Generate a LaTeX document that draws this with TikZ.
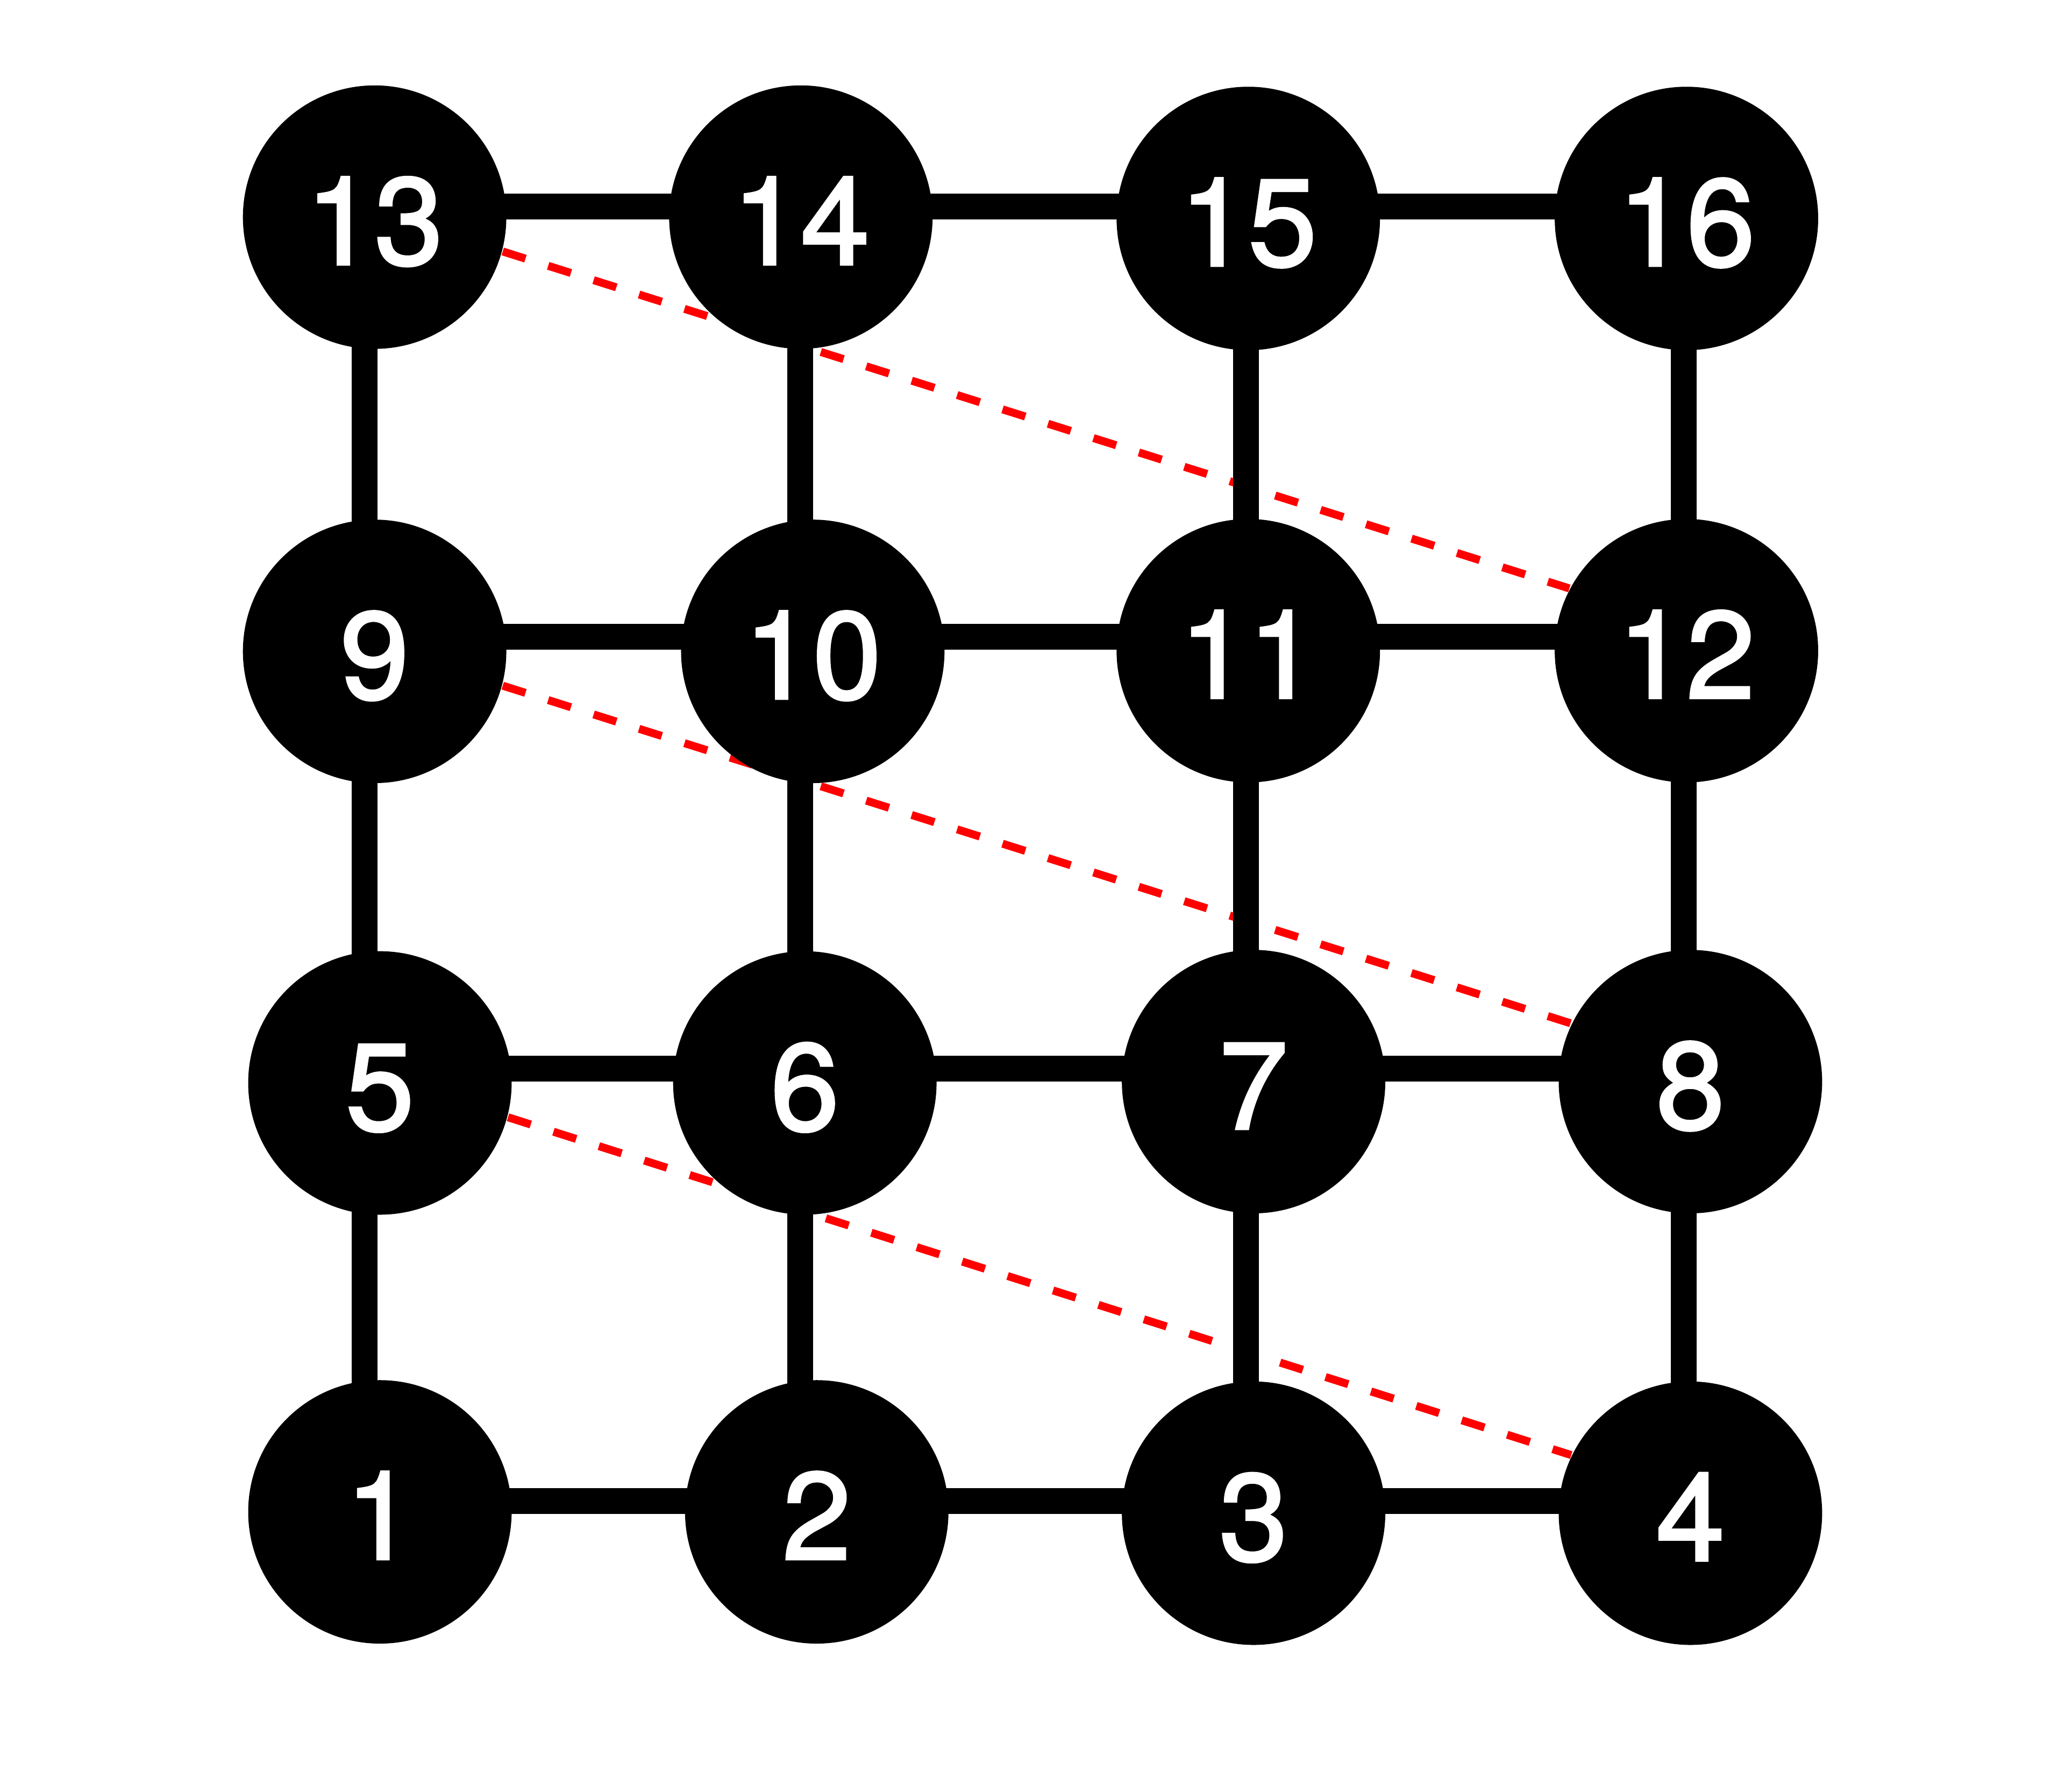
\documentclass[tikz,border=0pt]{standalone}
\usepackage{fontspec}
\setmainfont{TeX Gyre Heros}
\newfontfamily\labelfont{TeX Gyre Heros}[FakeBold=2]
\usetikzlibrary{backgrounds}

\begin{document}
\begin{tikzpicture}[
        vertex/.style={circle, fill=black, minimum size=1.99cm, inner sep=0pt,
            text=white, text height=0.714cm, text depth=0pt,
            font=\labelfont\fontsize{26.5}{26}\selectfont},
        wire/.style={line width=0.195cm, black},
        wrap/.style={line width=0.06cm, red, dash pattern=on 0.18cm off 0.18cm}
    ]
        \useasboundingbox (0,0) rectangle (15.6,-13.536);

        % Grid lines
        \coordinate (colA) at (2.755,0);
        \coordinate (colB) at (6.045,0);
        \coordinate (colC) at (9.413,0);
        \coordinate (colD) at (12.72,0);
        \coordinate (rowA) at (0,-11.34);
        \coordinate (rowB) at (0,-8.07);
        \coordinate (rowC) at (0,-4.81);
        \coordinate (rowD) at (0,-1.56);

        % Nodes
        \node[vertex] (n1) at (2.87,-11.42) {1};
        \node[vertex] (n2) at (6.17,-11.42) {2};
        \node[vertex] (n3) at (9.47,-11.43) {3};
        \node[vertex] (n4) at (12.77,-11.43) {4};
        \node[vertex] (n5) at (2.87,-8.18) {5};
        \node[vertex] (n6) at (6.08,-8.18) {6};
        \node[vertex] (n7) at (9.47,-8.17) {7};
        \node[vertex] (n8) at (12.77,-8.17) {8};
        \node[vertex] (n9) at (2.83,-4.92) {9};
        \node[vertex] (n10) at (6.14,-4.92) {10};
        \node[vertex] (n11) at (9.43,-4.915) {11};
        \node[vertex] (n12) at (12.74,-4.915) {12};
        \node[vertex] (n13) at (2.83,-1.64) {13};
        \node[vertex] (n14) at (6.05,-1.64) {14};
        \node[vertex] (n15) at (9.43,-1.65) {15};
        \node[vertex] (n16) at (12.74,-1.65) {16};

        \begin{pgfonlayer}{background}
        % Wrap-around links
        \draw[wrap] (n13.-15) -- (n12.152);
        \draw[wrap] (n9.-15) -- (n8.154);
        \draw[wrap] (n5.-15) -- (n4.154);

        % Rows
        \draw[wire] (n1 |- rowA) -- (n2 |- rowA) -- (n3 |- rowA) -- (n4 |- rowA);
        \draw[wire] (n5 |- rowB) -- (n6 |- rowB) -- (n7 |- rowB) -- (n8 |- rowB);
        \draw[wire] (n9 |- rowC) -- (n10 |- rowC) -- (n11 |- rowC) -- (n12 |- rowC);
        \draw[wire] (n13 |- rowD) -- (n14 |- rowD) -- (n15 |- rowD) -- (n16 |- rowD);

        % Columns
        \draw[wire] (n1 -| colA) -- (n5 -| colA) -- (n9 -| colA) -- (n13 -| colA);
        \draw[wire] (n2 -| colB) -- (n6 -| colB) -- (n10 -| colB) -- (n14 -| colB);
        \draw[wire] (n3 -| colC) -- (n7 -| colC) -- (n11 -| colC) -- (n15 -| colC);
        \draw[wire] (n4 -| colD) -- (n8 -| colD) -- (n12 -| colD) -- (n16 -| colD);
        \end{pgfonlayer}
    \end{tikzpicture}
\end{document}
